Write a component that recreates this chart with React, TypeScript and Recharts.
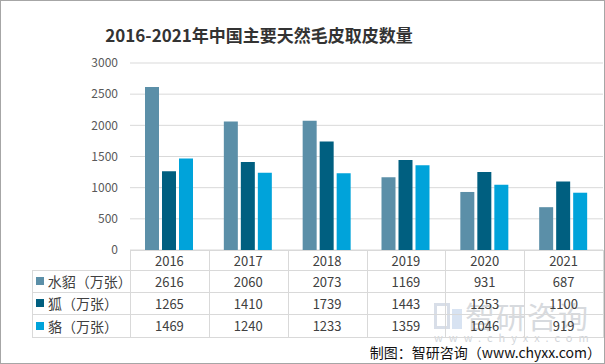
import React from 'react';
import { BarChart, Bar, XAxis, YAxis, CartesianGrid } from 'recharts';

const years = ['2016', '2017', '2018', '2019', '2020', '2021'];
const mink = [2616, 2060, 2073, 1169, 931, 687];
const fox = [1265, 1410, 1739, 1443, 1253, 1100];
const raccoon = [1469, 1240, 1233, 1359, 1046, 919];
const seriesNames = ['水貂（万张）', '狐（万张）', '貉（万张）'];
const seriesColors = ['#5B8FA8', '#005F80', '#00A3DA'];
const yTicks = [0, 500, 1000, 1500, 2000, 2500, 3000];
const title = '2016-2021年中国主要天然毛皮取皮数量';
const source = '制图：智研咨询（www.chyxx.com）';

const data = years.map((y, i) => ({ year: y, mink: mink[i], fox: fox[i], raccoon: raccoon[i] }));
const seriesValues = [mink, fox, raccoon];
const seriesKeys = ['mink', 'fox', 'raccoon'];

const W = 605;
const H = 364;
const PLOT_LEFT = 130;
const PLOT_RIGHT = 603;
const PLOT_TOP = 63;
const PLOT_BOTTOM = 250;
const CHART_H = 264;
const TABLE_LEFT = 32;
const rowTops = [250, 270, 292, 314, 337];
const colW = (PLOT_RIGHT - PLOT_LEFT) / years.length;
const LINE = '#d9d9d9';
const FONT = '"Noto Sans CJK SC", "Noto Sans", sans-serif';

export default function App() {
  const lines: React.ReactNode[] = [];
  rowTops.forEach((y, i) => {
    const x0 = i === 0 ? PLOT_LEFT : TABLE_LEFT;
    lines.push(
      <div key={'h' + i} style={{ position: 'absolute', left: x0, top: y, width: PLOT_RIGHT - x0 + 1, height: 1, background: LINE }} />
    );
  });
  lines.push(
    <div key="vl" style={{ position: 'absolute', left: TABLE_LEFT, top: rowTops[1], width: 1, height: rowTops[4] - rowTops[1], background: LINE }} />
  );
  for (let i = 0; i <= years.length; i++) {
    lines.push(
      <div key={'v' + i} style={{ position: 'absolute', left: Math.round(PLOT_LEFT + i * colW), top: rowTops[0], width: 1, height: rowTops[4] - rowTops[0], background: LINE }} />
    );
  }

  const cellStyle = (left: number, top: number, width: number, height: number): React.CSSProperties => ({
    position: 'absolute', left, top, width, height, display: 'flex', alignItems: 'center', justifyContent: 'center',
    fontSize: 13, color: '#404040', fontFamily: FONT, lineHeight: 1,
  });

  return (
    <div style={{ position: 'absolute', left: 0, top: 0, width: W, height: H, background: '#fff', overflow: 'hidden', fontFamily: FONT }}>
      {/* watermark (behind everything) */}
      <div style={{ position: 'absolute', left: 434, top: 303, width: 28, height: 26, opacity: 0.3 }}>
        <div style={{ position: 'absolute', left: 0, top: 0, width: 16, height: 26, border: '3px solid #7f93b5', boxSizing: 'border-box' }} />
        <div style={{ position: 'absolute', left: 18, top: 6, width: 10, height: 20, background: '#7fa6d6' }} />
      </div>
      <div style={{ position: 'absolute', left: 465, top: 298, fontSize: 30, color: '#8e96a3', opacity: 0.35, lineHeight: '34px', fontFamily: FONT, letterSpacing: 1 }}>智研咨询</div>
      <div style={{ position: 'absolute', left: 434, top: 331, fontSize: 11, color: '#8e96a3', opacity: 0.4, lineHeight: '12px', fontFamily: FONT, letterSpacing: 6 }}>www.chyxx.com</div>

      <div style={{ position: 'absolute', left: 0, top: 23, width: 518, textAlign: 'center', fontSize: 17, fontWeight: 700, color: '#333', lineHeight: '24px', fontFamily: FONT }}>
        {title}
      </div>
      <div style={{ position: 'absolute', left: 0, top: 0 }}>
        <BarChart width={W - 1} height={CHART_H} data={data} margin={{ top: PLOT_TOP, right: W - 1 - PLOT_RIGHT, bottom: CHART_H - PLOT_BOTTOM, left: 0 }} barSize={14} barGap={3}>
          <CartesianGrid vertical={false} stroke={LINE} />
          <XAxis dataKey="year" hide />
          <YAxis width={PLOT_LEFT} domain={[0, 3000]} ticks={yTicks} axisLine={false} tickLine={false} tickMargin={6} tick={{ fontSize: 12, fill: '#595959', fontFamily: FONT }} />
          {seriesKeys.map((k, i) => (
            <Bar key={k} dataKey={k} name={seriesNames[i]} fill={seriesColors[i]} isAnimationActive={false} />
          ))}
        </BarChart>
      </div>
      {lines}
      {years.map((y, i) => (
        <div key={'y' + y} style={cellStyle(PLOT_LEFT + i * colW, rowTops[0], colW, rowTops[1] - rowTops[0])}>{y}</div>
      ))}
      {seriesNames.map((name, r) => (
        <React.Fragment key={name}>
          <div style={{ ...cellStyle(TABLE_LEFT, rowTops[r + 1], PLOT_LEFT - TABLE_LEFT, rowTops[r + 2] - rowTops[r + 1]), justifyContent: 'flex-start' }}>
            <span style={{ display: 'inline-block', width: 8, height: 8, background: seriesColors[r], marginLeft: 4, marginRight: 4 }} />
            <span style={{ fontSize: 14 }}>{name}</span>
          </div>
          {seriesValues[r].map((v, i) => (
            <div key={i} style={cellStyle(PLOT_LEFT + i * colW, rowTops[r + 1], colW, rowTops[r + 2] - rowTops[r + 1])}>{v}</div>
          ))}
        </React.Fragment>
      ))}
      <div style={{ position: 'absolute', right: 4, top: 343, fontSize: 14, color: '#111', lineHeight: '18px', fontFamily: FONT, whiteSpace: 'nowrap' }}>{source}</div>
      <div style={{ position: 'absolute', left: 0, top: 0, width: W, height: H, border: '1px solid #a6a6a6', boxSizing: 'border-box', pointerEvents: 'none' }} />
    </div>
  );
}
